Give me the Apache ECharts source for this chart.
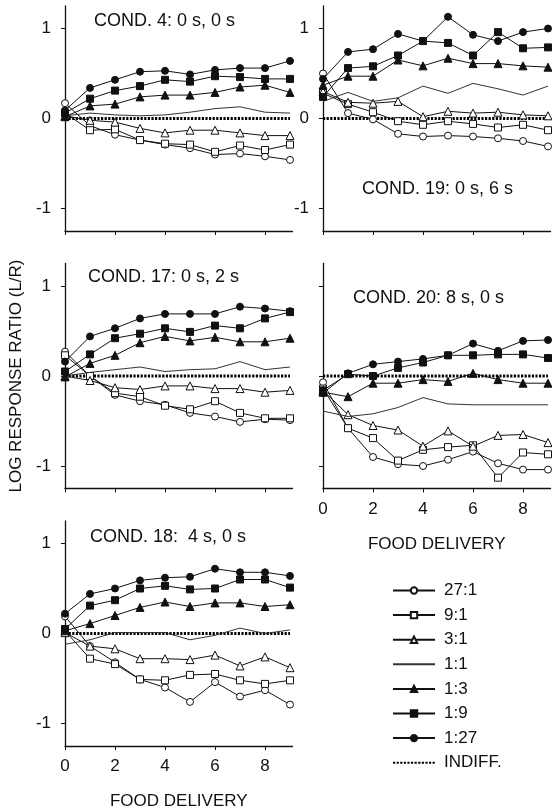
<!DOCTYPE html>
<html>
<head>
<meta charset="utf-8">
<script src="https://cdn.jsdelivr.net/npm/echarts@6/dist/echarts.min.js"></script>
<style>
  html, body { margin: 0; padding: 0; background: #fff; }
  #chart { width: 552px; height: 811px; }
</style>
</head>
<body>
<div id="chart"></div>
<script>
// Food deliveries along the x axis
const deliveries = [0, 1, 2, 3, 4, 5, 6, 7, 8, 9];
const xTicks = [0, 2, 4, 6, 8];
const yTicks = [-1, 0, 1];

// Ratio labels, in legend order
const ratioNames = ['27:1', '9:1', '3:1', '1:1', '1:3', '1:9', '1:27'];
const indiffName = 'INDIFF.';
const indifference = [0, 0, 0, 0, 0, 0, 0, 0, 0, 0];

// COND. 4: 0 s, 0 s
const c4_27_1 = [0.17, -0.08, -0.18, -0.24, -0.29, -0.33, -0.40, -0.39, -0.42, -0.46];
const c4_9_1  = [0.06, -0.13, -0.12, -0.24, -0.28, -0.29, -0.37, -0.30, -0.35, -0.29];
const c4_3_1  = [0.03, -0.02, -0.04, -0.11, -0.16, -0.13, -0.13, -0.16, -0.19, -0.19];
const c4_1_1  = [0.03, 0.06, 0.04, 0.03, 0.04, 0.07, 0.11, 0.13, 0.07, 0.06];
const c4_1_3  = [0.02, 0.14, 0.16, 0.24, 0.26, 0.26, 0.29, 0.35, 0.37, 0.29];
const c4_1_9  = [0.06, 0.22, 0.31, 0.36, 0.43, 0.41, 0.47, 0.46, 0.44, 0.44];
const c4_1_27 = [0.09, 0.34, 0.43, 0.52, 0.53, 0.49, 0.54, 0.56, 0.56, 0.64];

// COND. 19: 0 s, 6 s
const c19_27_1 = [0.50, 0.06, -0.01, -0.17, -0.20, -0.19, -0.20, -0.22, -0.25, -0.31];
const c19_9_1  = [0.28, 0.16, 0.07, -0.03, -0.07, -0.03, -0.06, -0.10, -0.07, -0.13];
const c19_3_1  = [0.30, 0.18, 0.17, 0.19, 0.02, 0.08, 0.06, 0.07, 0.04, 0.03];
const c19_1_1  = [0.19, 0.29, 0.19, 0.23, 0.36, 0.28, 0.39, 0.33, 0.26, 0.36];
const c19_1_3  = [0.37, 0.47, 0.47, 0.65, 0.585, 0.67, 0.61, 0.61, 0.585, 0.57];
const c19_1_9  = [0.24, 0.56, 0.58, 0.70, 0.86, 0.84, 0.70, 0.96, 0.78, 0.79];
const c19_1_27 = [0.44, 0.74, 0.77, 0.94, 0.86, 1.13, 0.93, 0.86, 0.96, 1.00];

// COND. 17: 0 s, 2 s
const c17_27_1 = [0.27, 0.00, -0.21, -0.28, -0.32, -0.41, -0.45, -0.51, -0.48, -0.49];
const c17_9_1  = [0.23, 0.00, -0.19, -0.23, -0.33, -0.37, -0.28, -0.41, -0.47, -0.47];
const c17_3_1  = [0.00, -0.05, -0.13, -0.15, -0.11, -0.11, -0.14, -0.14, -0.18, -0.16];
const c17_1_1  = [0.00, 0.04, 0.07, 0.10, 0.05, 0.07, 0.08, 0.16, 0.07, 0.10];
const c17_1_3  = [-0.01, 0.14, 0.23, 0.37, 0.44, 0.39, 0.43, 0.38, 0.38, 0.42];
const c17_1_9  = [0.05, 0.24, 0.42, 0.47, 0.53, 0.49, 0.56, 0.53, 0.64, 0.71];
const c17_1_27 = [0.16, 0.44, 0.53, 0.64, 0.69, 0.69, 0.69, 0.77, 0.75, 0.72];

// COND. 20: 8 s, 0 s
const c20_27_1 = [-0.07, -0.58, -0.90, -0.98, -1.00, -0.93, -0.84, -0.97, -1.04, -1.04];
const c20_9_1  = [-0.14, -0.58, -0.69, -0.94, -0.82, -0.79, -0.77, -1.13, -0.85, -0.87];
const c20_3_1  = [-0.16, -0.43, -0.55, -0.60, -0.78, -0.61, -0.78, -0.66, -0.65, -0.74];
const c20_1_1  = [-0.39, -0.45, -0.42, -0.35, -0.24, -0.31, -0.32, -0.32, -0.32, -0.32];
const c20_1_3  = [-0.18, -0.23, -0.08, -0.08, -0.04, -0.06, 0.03, -0.04, -0.08, -0.08];
const c20_1_9  = [-0.16, 0.02, 0.00, 0.09, 0.15, 0.23, 0.23, 0.24, 0.24, 0.20];
const c20_1_27 = [-0.19, 0.03, 0.13, 0.16, 0.19, 0.23, 0.36, 0.28, 0.39, 0.40];

// COND. 18: 4 s, 0 s
const c18_27_1 = [0.19, -0.14, -0.32, -0.51, -0.60, -0.76, -0.54, -0.70, -0.63, -0.79];
const c18_9_1  = [0.03, -0.28, -0.34, -0.51, -0.52, -0.46, -0.45, -0.52, -0.56, -0.52];
const c18_3_1  = [0.01, -0.14, -0.17, -0.28, -0.28, -0.29, -0.24, -0.36, -0.26, -0.38];
const c18_1_1  = [-0.12, -0.07, 0.01, 0.01, 0.01, -0.07, -0.02, 0.06, 0.00, 0.04];
const c18_1_3  = [0.03, 0.11, 0.20, 0.29, 0.35, 0.30, 0.34, 0.34, 0.30, 0.32];
const c18_1_9  = [0.05, 0.31, 0.37, 0.50, 0.53, 0.49, 0.50, 0.60, 0.60, 0.51];
const c18_1_27 = [0.22, 0.44, 0.50, 0.59, 0.62, 0.63, 0.72, 0.68, 0.68, 0.64];

const panelTitles = [
  'COND. 4: 0 s, 0 s',
  'COND. 19: 0 s, 6 s',
  'COND. 17: 0 s, 2 s',
  'COND. 20: 8 s, 0 s',
  'COND. 18:  4 s, 0 s'
];

const panelData = [
  [c4_27_1, c4_9_1, c4_3_1, c4_1_1, c4_1_3, c4_1_9, c4_1_27],
  [c19_27_1, c19_9_1, c19_3_1, c19_1_1, c19_1_3, c19_1_9, c19_1_27],
  [c17_27_1, c17_9_1, c17_3_1, c17_1_1, c17_1_3, c17_1_9, c17_1_27],
  [c20_27_1, c20_9_1, c20_3_1, c20_1_1, c20_1_3, c20_1_9, c20_1_27],
  [c18_27_1, c18_9_1, c18_3_1, c18_1_1, c18_1_3, c18_1_9, c18_1_27]
];

// ---- layout ----
const FONT = '"Liberation Sans", Arial, Helvetica, sans-serif';
const INK = '#111';
const grids = [
  { left: 65,  top: 6,     width: 227.5, height: 225 },
  { left: 323, top: 6,     width: 227.5, height: 225 },
  { left: 65,  top: 263.5, width: 227.5, height: 225 },
  { left: 323, top: 263.5, width: 227.5, height: 225 },
  { left: 65,  top: 521,   width: 227.5, height: 225 }
];
const showXLabels = [false, false, false, true, true];
const showYLabels = [true, true, true, false, true];
const titlePos = [[94, 22], [362, 190], [88, 278], [353, 299], [90, 538]];

// marker style per ratio
const markerStyles = [
  { symbol: 'circle',   size: 7, fill: '#fff' },
  { symbol: 'rect',     size: 7, fill: '#fff' },
  { symbol: 'triangle', size: 8, fill: '#fff' },
  { symbol: 'none',     size: 0, fill: INK },
  { symbol: 'triangle', size: 8, fill: INK },
  { symbol: 'rect',     size: 7, fill: INK },
  { symbol: 'circle',   size: 7, fill: INK }
];

const xAxes = grids.map((g, i) => ({
  type: 'value', gridIndex: i, min: 0, max: 9.1,
  splitLine: { show: false },
  axisLine: { onZero: false, lineStyle: { color: INK, width: 1.3 } },
  axisTick: { show: true, length: 4, customValues: xTicks, lineStyle: { color: INK, width: 1 } },
  axisLabel: { show: showXLabels[i], customValues: xTicks, margin: 12,
               fontSize: 17, color: INK, fontFamily: FONT },
  name: showXLabels[i] ? 'FOOD DELIVERY' : '',
  nameLocation: 'middle', nameGap: 47,
  nameTextStyle: { fontSize: 17, color: INK, fontFamily: FONT }
}));

const yAxes = grids.map((g, i) => ({
  type: 'value', gridIndex: i, min: -1.25, max: 1.25,
  splitLine: { show: false },
  axisLine: { show: true, onZero: false, lineStyle: { color: INK, width: 1.3 } },
  axisTick: { show: true, length: 4, customValues: yTicks, lineStyle: { color: INK, width: 1 } },
  axisLabel: { show: showYLabels[i], customValues: yTicks, margin: 14,
               fontSize: 17, color: INK, fontFamily: FONT },
  name: i === 2 ? 'LOG RESPONSE RATIO (L/R)' : '',
  nameLocation: 'middle', nameGap: 40, nameRotate: 90,
  nameTextStyle: { fontSize: 17, color: INK, fontFamily: FONT }
}));

const series = [];
panelData.forEach((sets, p) => {
  series.push({
    name: indiffName, type: 'line', xAxisIndex: p, yAxisIndex: p,
    data: deliveries.map((x, k) => [x, indifference[k]]),
    symbol: 'none', z: 1, color: '#000',
    lineStyle: { color: '#000', width: 3.2, type: [2.2, 1.4] }
  });
  sets.forEach((vals, r) => {
    const m = markerStyles[r];
    series.push({
      name: ratioNames[r], type: 'line', xAxisIndex: p, yAxisIndex: p,
      data: deliveries.map((x, k) => [x, vals[k]]),
      symbol: m.symbol, symbolSize: m.size, showSymbol: m.symbol !== 'none',
      z: 2 + r, color: m.fill,
      lineStyle: { color: r === 3 ? '#333' : INK, width: 1 },
      itemStyle: { color: m.fill, borderColor: INK, borderWidth: 1, opacity: 1 }
    });
  });
});

const graphics = panelTitles.map((t, i) => ({
  type: 'text', left: titlePos[i][0], top: titlePos[i][1] - 10,
  style: { text: t, fontSize: 18, fill: INK, fontFamily: FONT }
}));

// legend entries: plain lines carry no marker
const legendItems = ratioNames.map((n, r) =>
  markerStyles[r].symbol === 'none' ? { name: n, itemStyle: { opacity: 0 } } : { name: n }
).concat([{ name: indiffName, itemStyle: { opacity: 0 } }]);

const chart = echarts.init(document.getElementById('chart'), null, { renderer: 'canvas' });
chart.setOption({
  animation: false,
  backgroundColor: '#fff',
  grid: grids,
  xAxis: xAxes,
  yAxis: yAxes,
  series: series,
  graphic: graphics,
  legend: {
    orient: 'vertical', left: 387, top: 577,
    itemWidth: 42, itemHeight: 8, itemGap: 7.6,
    data: legendItems,
    textStyle: { fontSize: 17, color: INK, fontFamily: FONT, lineHeight: 14, padding: [0, 0, 0, 4] },
    selectedMode: false
  }
});
</script>
</body>
</html>
